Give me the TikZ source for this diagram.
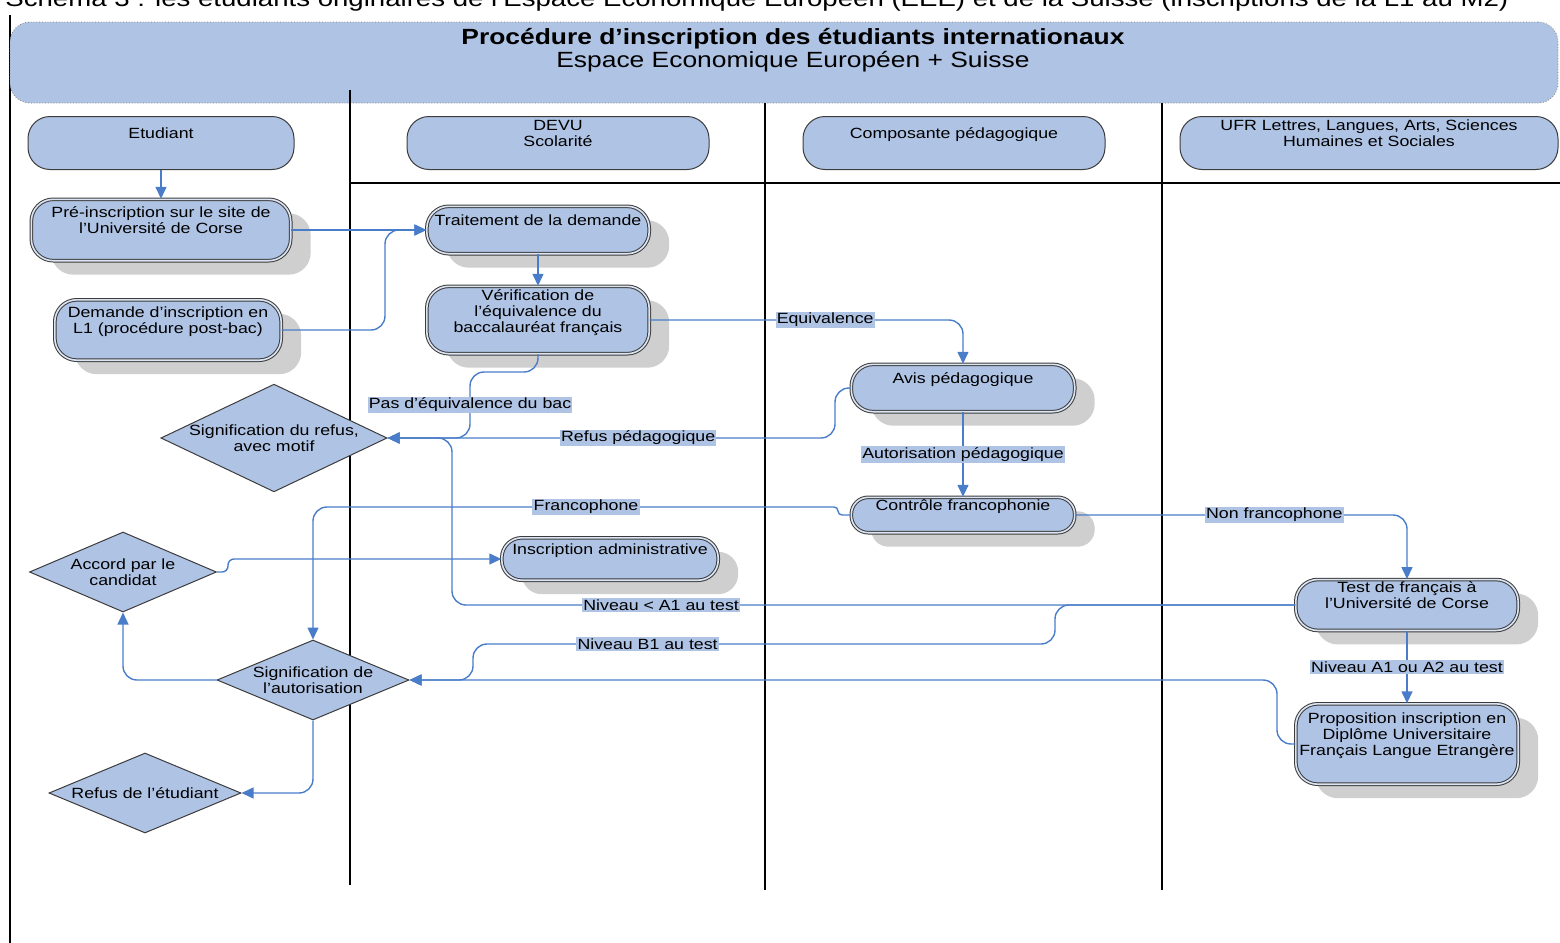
\documentclass[tikz,border=0pt]{standalone}
\usepackage{fontspec}
\setmainfont{Liberation Sans}[FakeStretch=1.2]
\usetikzlibrary{arrows.meta}
\usetikzlibrary{shapes.geometric}
\usetikzlibrary{shadows}

\definecolor{boxblue}{HTML}{AFC3E4}
\definecolor{flowblue}{HTML}{4A7DC9}
\definecolor{shadowgrey}{HTML}{CFCFCF}
\definecolor{edgegrey}{HTML}{3C3C3C}

\newcommand{\boxfont}{\fontsize{7.4}{8}\selectfont}

\begin{document}
\begin{tikzpicture}[x=0.5pt,y=-0.5pt,
    lane/.style={line width=1pt},
    band/.style={draw=gray,densely dotted,fill=boxblue,rounded corners=10pt},
    actor/.style={draw=edgegrey,fill=boxblue,line width=0.5pt,rounded corners=11pt,
        minimum height=26.5pt,align=center,font=\boxfont,inner sep=1pt},
    act/.style={draw=edgegrey,double=white!55!boxblue,double distance=0.8pt,line width=0.5pt,
        fill=boxblue,rounded corners=11pt,align=center,font=\boxfont,inner sep=1pt,
        drop shadow={shadow xshift=10pt,shadow yshift=-7pt,fill=shadowgrey,opacity=1}},
    choice/.style={diamond,draw=edgegrey,fill=boxblue,line width=0.5pt,align=center,
        font=\boxfont,inner sep=0pt},
    flow/.style={draw=flowblue,line width=0.7pt,rounded corners=7pt,
        -{Triangle[length=6pt,width=5.5pt]}},
    lbl/.style={fill=boxblue,sharp corners,inner sep=0.6pt,font=\boxfont}]

    \useasboundingbox (0,0) rectangle (1560,943);

    % Caption of the figure, cut by the top of the page
    \begin{scope}
        \clip (0,0) rectangle (1560,943);
        \node[anchor=base west,font=\fontsize{11.5}{13}\selectfont,inner sep=0pt] (caption) at (5,6)
            {Schéma 3 : les étudiants originaires de l’Espace Economique Européen (EEE) et de la Suisse (inscriptions de la L1 au M2)};
    \end{scope}

    % Lanes:
    % the title band lies over the left border line
    \draw[lane] (10,15) -- (10,943);
    \node[band,minimum width=774pt,minimum height=40.5pt] (band) at (784,62.5) {};
    \node[font=\bfseries\fontsize{11}{13}\selectfont] (title) at (793,39) {Procédure d’inscription des étudiants internationaux};
    \node[font=\fontsize{11}{13}\selectfont] (subtitle) at (793,62) {Espace Economique Européen + Suisse};
    \draw[lane] (350,90) -- (350,885);
    \draw[lane] (765,103) -- (765,890);
    \draw[lane] (1162,103) -- (1162,890);
    \draw[lane] (350,183) -- (1560,183);

    % Lane headers (an empty last line keeps the text high in the box)
    \node[actor,minimum width=133pt] (etud) at (161,143) {Etudiant\\[2pt]\mbox{}};
    \node[actor,minimum width=151pt] (devu) at (558,143) {DEVU\\Scolarité\\[2pt]\mbox{}};
    \node[actor,minimum width=151pt] (comp) at (954,143) {Composante pédagogique\\[2pt]\mbox{}};
    \node[actor,minimum width=189pt] (ufr) at (1369,143) {UFR Lettres, Langues, Arts, Sciences\\Humaines et Sociales\\[2pt]\mbox{}};

    % Activities
    \node[act,minimum width=129.7pt,minimum height=30.7pt] (pre) at (161,230) {Pré-inscription sur le site de\\l'Université de Corse\\[2pt]\mbox{}};
    \node[act,minimum width=113.2pt,minimum height=30.2pt] (dem) at (168,330) {Demande d'inscription en\\L1 (procédure post-bac)\\[2pt]\mbox{}};
    \node[act,minimum width=111.2pt,minimum height=23.7pt] (trait) at (538,230) {Traitement de la demande\\[2pt]\mbox{}};
    \node[act,minimum width=111.2pt,minimum height=33.7pt] (verif) at (538,320) {Vérification de\\l'équivalence du\\baccalauréat français\\[1pt]\mbox{}};
    \node[act,minimum width=111.7pt,minimum height=23.7pt] (avis) at (963,388) {Avis pédagogique\\[2pt]\mbox{}};
    \node[act,minimum width=111.7pt,minimum height=17.7pt,rounded corners=8.5pt] (ctrl) at (963,515) {Contrôle francophonie\\[2pt]\mbox{}};
    \node[act,minimum width=108.2pt,minimum height=21.2pt,rounded corners=10pt] (inscr) at (610,559) {Inscription administrative\\[2pt]\mbox{}};
    \node[act,minimum width=111.2pt,minimum height=23.7pt] (test) at (1407,605) {Test de français à\\l'Université de Corse\\[2pt]\mbox{}};
    \node[act,minimum width=111.2pt,minimum height=40.2pt] (prop) at (1407,744) {Proposition inscription en\\Diplôme Universitaire\\Français Langue Etrangère\\[2pt]\mbox{}};

    % Decisions
    \node[choice,minimum width=113pt,minimum height=53.5pt,aspect=2.1] (refus) at (274,438) {Signification du refus,\\avec motif};
    \node[choice,minimum width=93.5pt,minimum height=40pt,aspect=2.34] (accord) at (123,572) {Accord par le\\candidat};
    \node[choice,minimum width=96pt,minimum height=40pt,aspect=2.4] (sigaut) at (313,680) {Signification de\\l'autorisation};
    \node[choice,minimum width=96pt,minimum height=40pt,aspect=2.4] (refetu) at (145,793) {Refus de l'étudiant};

    % Flows:
    \draw[flow] (etud) -- (pre);
    \draw[flow] (pre.east) -- (trait.west);
    \draw[flow] (dem.east) -- (385,330) |- (trait.west);
    \draw[flow] (trait) -- (verif);
    \draw[flow] (verif.east) -| node[lbl,pos=0.28] (leq) {Equivalence} (avis.north);

    % every refusal comes back to the left diamond
    \draw[flow] (verif.south) |- (470,372) |- node[lbl,pos=0.25] (lpas) {Pas d’équivalence du bac} (refus.east);
    \draw[flow] (avis.west) -- (835,388) |- node[lbl,pos=0.72] (lrefp) {Refus pédagogique} (refus.east);
    \draw[flow] (test.west) -| node[lbl,pos=0.376] (la1) {Niveau < A1 au test} (452,438) -- (refus.east);

    \draw[flow] (avis) -- node[lbl] (laut) {Autorisation pédagogique} (ctrl);
    \draw[flow,rounded corners=2pt] (ctrl.west) -- (838,515) -- (838,507) [rounded corners=7pt] -| node[lbl,pos=0.24] (lfra) {Francophone} (sigaut.north);
    \draw[flow] (ctrl.east) -| node[lbl,pos=0.3] (lnon) {Non francophone} (test.north);

    % test results
    \draw[flow] (test.west) -| (1055,644) -| node[lbl,pos=0.35] (lb1) {Niveau B1 au test} (473,680) -- (sigaut.east);
    \draw[flow] (test) -- node[lbl] (la2) {Niveau A1 ou A2 au test} (prop);
    \draw[flow] (prop.west) -- (1277,744) |- (sigaut.east);

    % answer of the student
    \draw[flow] (sigaut.west) -| (accord.south);
    \draw[flow,rounded corners=3pt] (accord.east) -- (228,572) |- (inscr.west);
    \draw[flow] (sigaut.south) |- (refetu.east);
\end{tikzpicture}
\end{document}
